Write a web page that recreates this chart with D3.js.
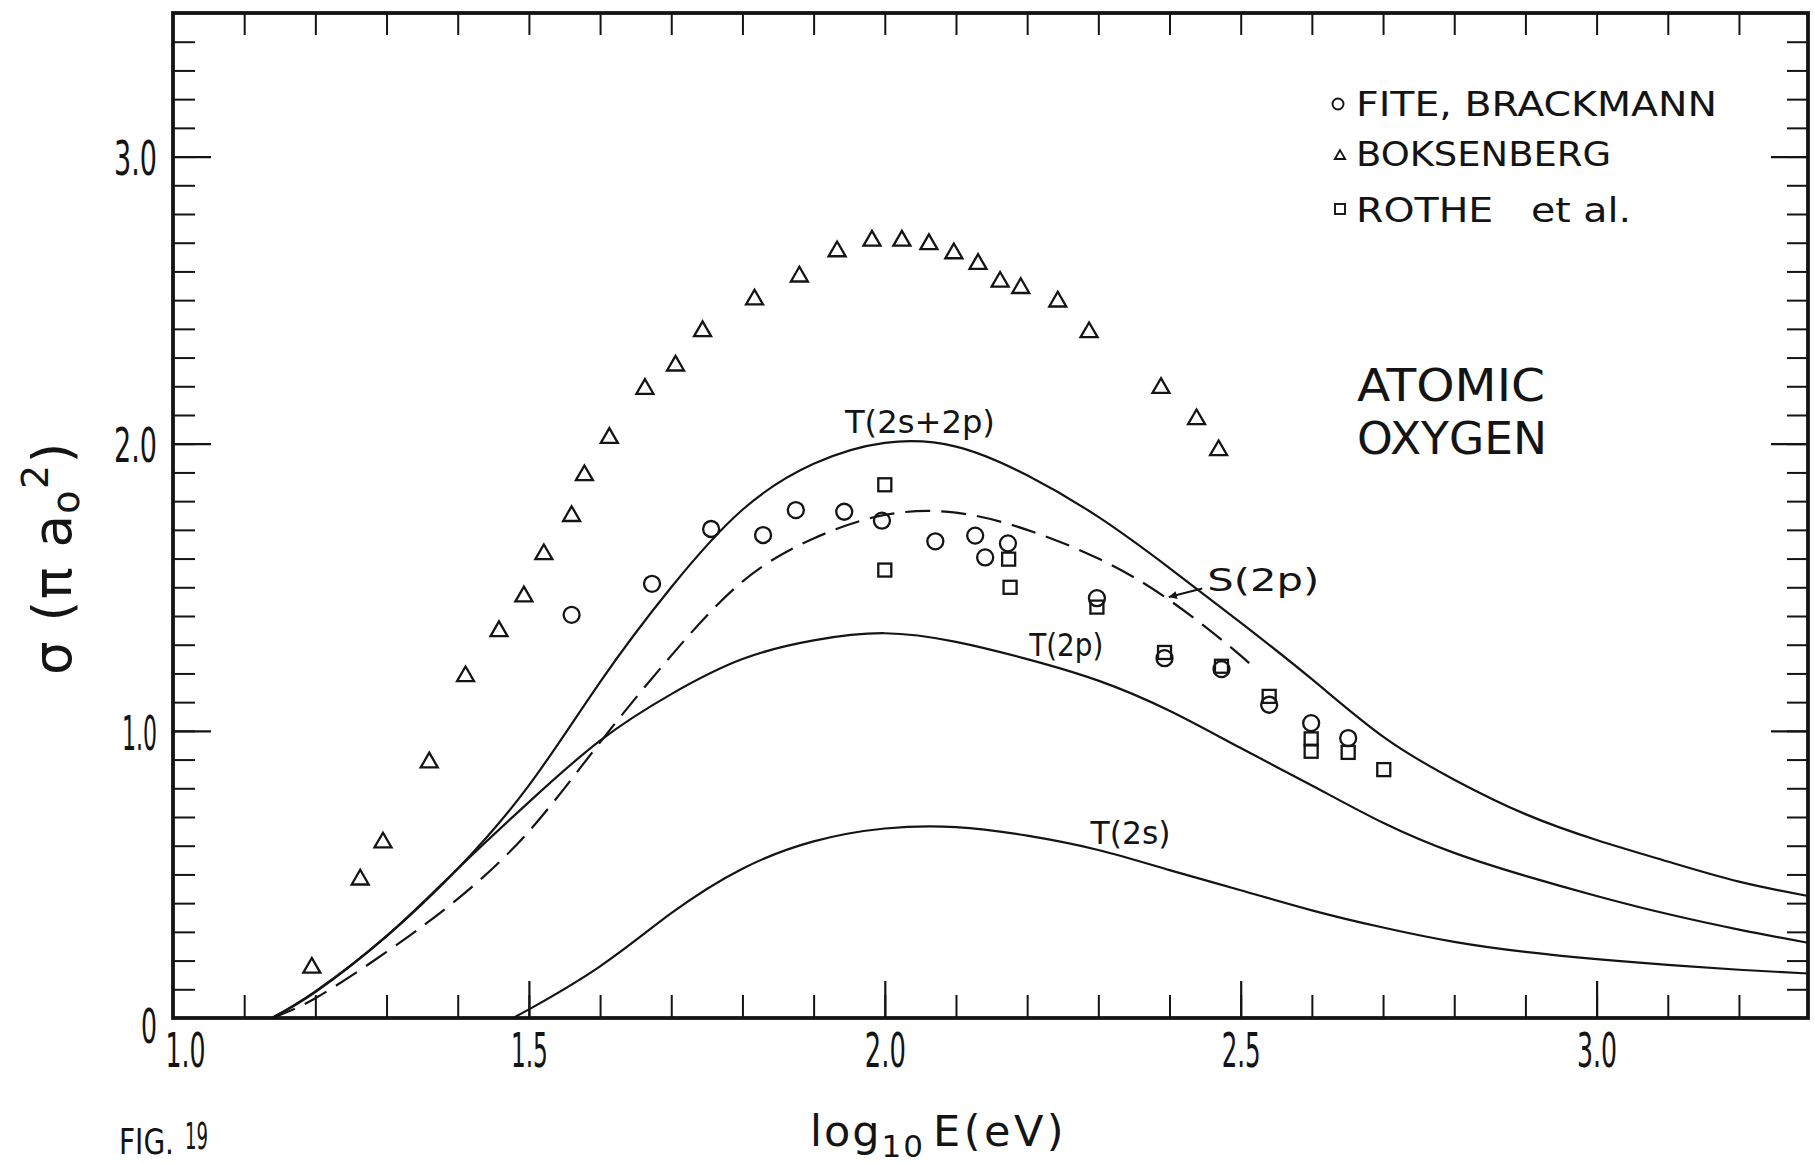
<!DOCTYPE html>
<html>
<head>
<meta charset="utf-8">
<title>Atomic oxygen excitation cross sections</title>
<script src="https://cdn.jsdelivr.net/npm/d3@7"></script>
<style>
  html, body { margin: 0; padding: 0; background: #ffffff; }
  svg { display: block; }
</style>
</head>
<body>
<svg id="chart" width="1815" height="1163"></svg>
<script>
// ---- data: log10 E (eV) vs cross section in units of pi a0^2 ----
const xTickLabels = ["1.0", "1.5", "2.0", "2.5", "3.0"];
const xTickValues = [1.0, 1.5, 2.0, 2.5, 3.0];
const yTickLabels = ["0", "1.0", "2.0", "3.0"];
const yTickValues = [0, 1, 2, 3];

// Fite & Brackmann (circles)
const fiteBrackmann = [
  [1.560, 1.404], [1.673, 1.512], [1.756, 1.703], [1.829, 1.682], [1.875, 1.769],
  [1.943, 1.763], [1.996, 1.732], [2.071, 1.660], [2.127, 1.680], [2.141, 1.604],
  [2.173, 1.653], [2.298, 1.462], [2.393, 1.253], [2.473, 1.215], [2.540, 1.091],
  [2.599, 1.027], [2.651, 0.975]
];

// Boksenberg (triangles)
const boksenberg = [
  [1.195, 0.175], [1.263, 0.482], [1.295, 0.611], [1.360, 0.890], [1.411, 1.190],
  [1.458, 1.347], [1.493, 1.468], [1.521, 1.615], [1.560, 1.748], [1.578, 1.890],
  [1.613, 2.020], [1.663, 2.191], [1.706, 2.272], [1.744, 2.392], [1.817, 2.502],
  [1.880, 2.582], [1.933, 2.670], [1.982, 2.707], [2.024, 2.707], [2.062, 2.695],
  [2.097, 2.663], [2.131, 2.626], [2.162, 2.564], [2.191, 2.542], [2.243, 2.495],
  [2.287, 2.388], [2.388, 2.194], [2.438, 2.085], [2.469, 1.977]
];

// Rothe et al. (squares)
const rotheEtAl = [
  [2.000, 1.857], [2.000, 1.560], [2.174, 1.598], [2.176, 1.500], [2.298, 1.431],
  [2.393, 1.273], [2.473, 1.225], [2.540, 1.120], [2.599, 0.972], [2.599, 0.929],
  [2.651, 0.925], [2.701, 0.865]
];

// Theoretical curves
const curveT2s2p = [
  [1.139, 0.000], [1.2, 0.090], [1.3, 0.285], [1.4, 0.520], [1.5, 0.810],
  [1.6, 1.170], [1.7, 1.500], [1.8, 1.770], [1.9, 1.930], [2.0, 2.003],
  [2.1, 1.990], [2.2, 1.890], [2.3, 1.745], [2.4, 1.567], [2.5, 1.377],
  [2.6, 1.180], [2.7, 0.980], [2.8, 0.830], [2.9, 0.710], [3.0, 0.620],
  [3.1, 0.545], [3.2, 0.475], [3.297, 0.425]
];
const curveS2p = [
  [1.139, 0.000], [1.2, 0.069], [1.3, 0.230], [1.4, 0.415], [1.5, 0.650],
  [1.6, 0.960], [1.7, 1.262], [1.8, 1.520], [1.9, 1.670], [2.0, 1.752],
  [2.1, 1.760], [2.2, 1.700], [2.3, 1.600], [2.4, 1.455], [2.5, 1.262],
  [2.52, 1.210]
];
const curveT2p = [
  [1.139, 0.000], [1.2, 0.093], [1.3, 0.285], [1.4, 0.520], [1.5, 0.752],
  [1.6, 0.966], [1.7, 1.128], [1.8, 1.250], [1.9, 1.315], [2.0, 1.340],
  [2.1, 1.310], [2.2, 1.250], [2.3, 1.175], [2.4, 1.070], [2.5, 0.940],
  [2.6, 0.810], [2.7, 0.680], [2.8, 0.575], [2.9, 0.495], [3.0, 0.425],
  [3.1, 0.362], [3.2, 0.308], [3.297, 0.262]
];
const curveT2s = [
  [1.477, 0.000], [1.5, 0.030], [1.6, 0.180], [1.7, 0.365], [1.8, 0.520],
  [1.9, 0.615], [2.0, 0.660], [2.1, 0.665], [2.2, 0.635], [2.3, 0.585],
  [2.4, 0.515], [2.5, 0.445], [2.6, 0.375], [2.7, 0.315], [2.8, 0.265],
  [2.9, 0.230], [3.0, 0.205], [3.1, 0.185], [3.2, 0.168], [3.297, 0.155]
];

const legendLabels = ["FITE, BRACKMANN", "BOKSENBERG", "ROTHE   et al."];
const curveLabels = ["T(2s+2p)", "S(2p)", "T(2p)", "T(2s)"];
const speciesLines = ["ATOMIC", "OXYGEN"];

// ---- layout ----
const svg = d3.select("#chart");
const ink = "#141414";
const narrowFont = "'Liberation Sans Narrow', 'DejaVu Sans Condensed', 'Arial Narrow', sans-serif";
const letterFont = "'DejaVu Sans', 'Open Sans', sans-serif";

const plot = { left: 173, right: 1808, top: 13, bottom: 1018 };
const x = d3.scaleLinear().domain([1.0, 3.297]).range([plot.left, plot.right]);
const y = d3.scaleLinear().domain([0, 3.5]).range([plot.bottom, plot.top]);

svg.append("rect").attr("width", 1815).attr("height", 1163).attr("fill", "#ffffff");

const minorX = d3.range(11, 33).map(d => d / 10);
const majorX = [1.5, 2.0, 2.5, 3.0];
const minorY = d3.range(1, 35).map(d => d / 10);
const majorY = [1, 2, 3];

function tickGroup(axis, tx, ty, width) {
  const g = svg.append("g").attr("transform", `translate(${tx},${ty})`).call(axis);
  g.select(".domain").remove();
  g.selectAll(".tick line").attr("stroke", ink).attr("stroke-width", width);
  return g;
}

// inward ticks on all four sides
tickGroup(d3.axisBottom(x).tickValues(minorX).tickSize(-23).tickFormat(""), 0, plot.bottom, 2);
tickGroup(d3.axisBottom(x).tickValues(majorX).tickSize(-37).tickFormat(""), 0, plot.bottom, 2.2);
tickGroup(d3.axisTop(x).tickValues(minorX).tickSize(-22).tickFormat(""), 0, plot.top, 2);
tickGroup(d3.axisLeft(y).tickValues(minorY).tickSize(-22).tickFormat(""), plot.left, 0, 2);
tickGroup(d3.axisLeft(y).tickValues(majorY).tickSize(-38).tickFormat(""), plot.left, 0, 2.2);
tickGroup(d3.axisRight(y).tickValues(minorY).tickSize(-21).tickFormat(""), plot.right, 0, 2);
tickGroup(d3.axisRight(y).tickValues(majorY).tickSize(-37).tickFormat(""), plot.right, 0, 2.2);

// frame
svg.append("rect")
  .attr("x", plot.left).attr("y", plot.top)
  .attr("width", plot.right - plot.left).attr("height", plot.bottom - plot.top)
  .attr("fill", "none").attr("stroke", ink).attr("stroke-width", 3.8);

// tick labels
const xLabelWidth = { "1.0": 40, "1.5": 37, "2.0": 41, "2.5": 39, "3.0": 40 };
const gxl = svg.append("g").attr("transform", `translate(0,${plot.bottom})`)
  .call(d3.axisBottom(x).tickValues(xTickValues).tickSize(0).tickPadding(15)
    .tickFormat((d, i) => xTickLabels[i]));
gxl.select(".domain").remove();
gxl.selectAll("text")
  .attr("fill", ink).attr("font-family", narrowFont).attr("font-size", 48)
  .attr("dx", (d, i) => i === 0 ? 12 : 0)
  .attr("textLength", (d, i) => xLabelWidth[xTickLabels[i]])
  .attr("lengthAdjust", "spacingAndGlyphs");

const yLabelWidth = { "0": 16, "1.0": 35, "2.0": 43, "3.0": 43 };
const gyl = svg.append("g").attr("transform", `translate(${plot.left},0)`)
  .call(d3.axisLeft(y).tickValues(yTickValues).tickSize(0).tickPadding(16)
    .tickFormat((d, i) => yTickLabels[i]));
gyl.select(".domain").remove();
gyl.selectAll("text")
  .attr("fill", ink).attr("font-family", narrowFont).attr("font-size", 48)
  .attr("dy", (d, i) => i === 0 ? "0.5em" : "0.38em")
  .attr("textLength", (d, i) => yLabelWidth[yTickLabels[i]])
  .attr("lengthAdjust", "spacingAndGlyphs");

// axis titles
const xTitle = svg.append("text")
  .attr("x", 810).attr("y", 1146)
  .attr("fill", ink).attr("font-family", letterFont).attr("font-size", 43)
  .attr("letter-spacing", 2);
xTitle.append("tspan").text("log");
xTitle.append("tspan").attr("dy", 11).attr("font-size", 31).text("10");
xTitle.append("tspan").attr("dy", -11).attr("dx", 8).attr("letter-spacing", 3.5).text("E(eV)");

const yTitle = svg.append("text")
  .attr("transform", "translate(71,558) rotate(-90)")
  .attr("text-anchor", "middle")
  .attr("fill", ink).attr("font-family", letterFont).attr("font-size", 53)
  .attr("letter-spacing", 1.5);
yTitle.append("tspan").text("σ (π a");
yTitle.append("tspan").attr("dy", 8).attr("font-size", 38).text("o");
yTitle.append("tspan").attr("dy", -31).attr("font-size", 38).text("2");
yTitle.append("tspan").attr("dy", 23).text(")");

// figure number
svg.append("text").attr("x", 119).attr("y", 1154)
  .attr("fill", ink).attr("font-family", narrowFont).attr("font-size", 35)
  .attr("textLength", 55).attr("lengthAdjust", "spacingAndGlyphs").text("FIG.");
svg.append("text").attr("x", 185).attr("y", 1149)
  .attr("fill", ink).attr("font-family", narrowFont).attr("font-size", 37)
  .attr("textLength", 23).attr("lengthAdjust", "spacingAndGlyphs").text("19");

// theoretical curves
const line = d3.line()
  .x(d => x(d[0])).y(d => y(d[1]))
  .curve(d3.curveNatural);
const curves = svg.append("g").attr("fill", "none").attr("stroke", ink)
  .attr("stroke-width", 2.2).attr("stroke-linejoin", "round");
curves.append("path").attr("d", line(curveT2s2p));
curves.append("path").attr("d", line(curveT2p));
curves.append("path").attr("d", line(curveT2s));
curves.append("path").attr("d", line(curveS2p)).attr("stroke-dasharray", "25 11");

// measured points
const marks = svg.append("g").attr("fill", "#ffffff").attr("stroke", ink).attr("stroke-width", 2.3);
const tri = d3.symbol().type(d3.symbolTriangle).size(125);
marks.selectAll(".tri").data(boksenberg).join("path")
  .attr("class", "tri")
  .attr("transform", d => `translate(${x(d[0])},${y(d[1])})`)
  .attr("d", tri);
marks.selectAll(".sq").data(rotheEtAl).join("rect")
  .attr("class", "sq")
  .attr("x", d => x(d[0]) - 6.5).attr("y", d => y(d[1]) - 6.5)
  .attr("width", 13).attr("height", 13).attr("fill", "none");
marks.selectAll(".circ").data(fiteBrackmann).join("circle")
  .attr("class", "circ")
  .attr("cx", d => x(d[0])).attr("cy", d => y(d[1])).attr("r", 8)
  .attr("fill", "none");

// curve labels
const curveLabelPos = [
  { at: [1.944, 2.038], w: 150 },
  { at: [2.453, 1.488], w: 112 },
  { at: [2.203, 1.262], w: 74 },
  { at: [2.289, 0.605], w: 80 }
];
curveLabels.forEach((t, i) => {
  const p = curveLabelPos[i];
  svg.append("text")
    .attr("x", x(p.at[0])).attr("y", y(p.at[1]))
    .attr("fill", ink).attr("font-family", letterFont).attr("font-size", 32)
    .attr("textLength", p.w).attr("lengthAdjust", "spacingAndGlyphs")
    .text(t);
});

// arrow pointing from the S(2p) label to the dashed curve
svg.append("defs").append("marker")
  .attr("id", "arrowHead").attr("viewBox", "0 0 10 10")
  .attr("refX", 10).attr("refY", 5)
  .attr("markerWidth", 13).attr("markerHeight", 8)
  .attr("markerUnits", "userSpaceOnUse").attr("orient", "auto")
  .append("path").attr("d", "M0,0 L10,5 L0,10 z").attr("fill", ink);
svg.append("line")
  .attr("x1", x(2.446)).attr("y1", y(1.496))
  .attr("x2", x(2.399)).attr("y2", y(1.466))
  .attr("stroke", ink).attr("stroke-width", 2)
  .attr("marker-end", "url(#arrowHead)");

// legend
const legend = svg.append("g");
const legendRows = [116, 166, 222];
const legendWidths = [361, 255, 275];
legendLabels.forEach((t, i) => {
  legend.append("text")
    .attr("x", 1356).attr("y", legendRows[i])
    .attr("xml:space", "preserve")
    .attr("fill", ink).attr("font-family", letterFont).attr("font-size", 34)
    .attr("textLength", legendWidths[i]).attr("lengthAdjust", "spacingAndGlyphs")
    .text(t);
});
const lg = legend.append("g").attr("fill", "none").attr("stroke", ink).attr("stroke-width", 1.9);
lg.append("circle").attr("cx", 1338).attr("cy", legendRows[0] - 12).attr("r", 5.5);
lg.append("path").attr("transform", `translate(1340,${legendRows[1] - 10})`)
  .attr("d", d3.symbol().type(d3.symbolTriangle).size(45)());
lg.append("rect").attr("x", 1335).attr("y", legendRows[2] - 18).attr("width", 10).attr("height", 10);

// species label, two lines
svg.append("text").attr("x", 1357).attr("y", 401)
  .attr("fill", ink).attr("font-family", letterFont).attr("font-size", 44)
  .attr("textLength", 188).attr("lengthAdjust", "spacingAndGlyphs").text(speciesLines[0]);
svg.append("text").attr("x", 1357).attr("y", 454)
  .attr("fill", ink).attr("font-family", letterFont).attr("font-size", 44)
  .attr("textLength", 190).attr("lengthAdjust", "spacingAndGlyphs").text(speciesLines[1]);
</script>
</body>
</html>
